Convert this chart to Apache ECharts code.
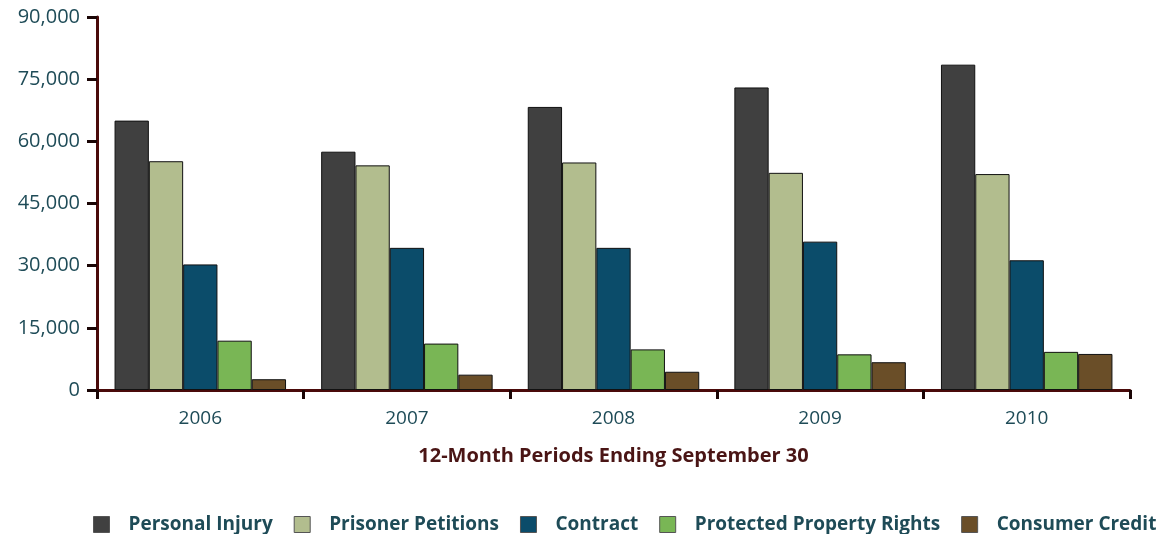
<!DOCTYPE html>
<html><head><meta charset="utf-8">
<script src="https://cdn.jsdelivr.net/npm/echarts@6/dist/echarts.min.js"></script>
<style>html,body{margin:0;padding:0;background:#fff}#c{width:1172px;height:534px}</style>
</head><body><div id="c"></div>
<script>
const categories = ['2006','2007','2008','2009','2010'];
const seriesNames = ['Personal Injury','Prisoner Petitions','Contract','Protected Property Rights','Consumer Credit'];
const personalInjury = [65000, 57500, 68300, 73000, 78500];
const prisonerPetitions = [55200, 54200, 54900, 52400, 52100];
const contract = [30300, 34300, 34300, 35800, 31300];
const protectedPropertyRights = [11900, 11200, 9800, 8600, 9200];
const consumerCredit = [2600, 3700, 4400, 6700, 8700];
const yTicks = [0, 15000, 30000, 45000, 60000, 75000, 90000];

const colors = ['#404040','#B2BD8E','#0B4C6A','#79B655','#6A4E28'];
const dataSets = [personalInjury, prisonerPetitions, contract, protectedPropertyRights, consumerCredit];
const chart = echarts.init(document.getElementById('c'));
chart.setOption({
  animation:false,
  textStyle:{fontFamily:'Open Sans'},
  grid:{left:97,right:42,top:17,bottom:144,containLabel:false},
  legend:{
    top:510,left:88,itemWidth:16,itemHeight:16,itemGap:21,
    icon:'rect',
    textStyle:{color:'#1E4B57',fontWeight:'bold',fontSize:19,fontFamily:'Open Sans',padding:[0,0,0,14]},
    data:seriesNames.map(n=>({name:n,itemStyle:{borderColor:'#555',borderWidth:1}}))
  },
  xAxis:{
    type:'category',data:categories,
    axisLine:{lineStyle:{color:'#4A0A0A',width:3}},
    axisTick:{show:true,length:9,lineStyle:{color:'#1a0505',width:3}},
    axisLabel:{color:'#1E4B57',fontSize:19,margin:19},
    name:'12-Month Periods Ending September 30',nameLocation:'middle',nameGap:56,
    nameTextStyle:{color:'#4A1515',fontWeight:'bold',fontSize:20}
  },
  yAxis:{
    type:'value',min:0,max:90000,interval:15000,
    axisLine:{show:true,lineStyle:{color:'#4A0A0A',width:3}},
    axisTick:{show:true,length:10,lineStyle:{color:'#1a0505',width:3}},
    splitLine:{show:false},
    axisLabel:{color:'#1E4B57',fontSize:20,margin:17,
      formatter:v=>yTicks.includes(v)?v.toLocaleString('en-US'):''}
  },
  series:dataSets.map((d,i)=>({
    name:seriesNames[i],type:'bar',data:d,
    barGap:'0%',barCategoryGap:'17%',
    itemStyle:{color:colors[i],borderColor:'#111',borderWidth:1}
  }))
});
</script></body></html>
